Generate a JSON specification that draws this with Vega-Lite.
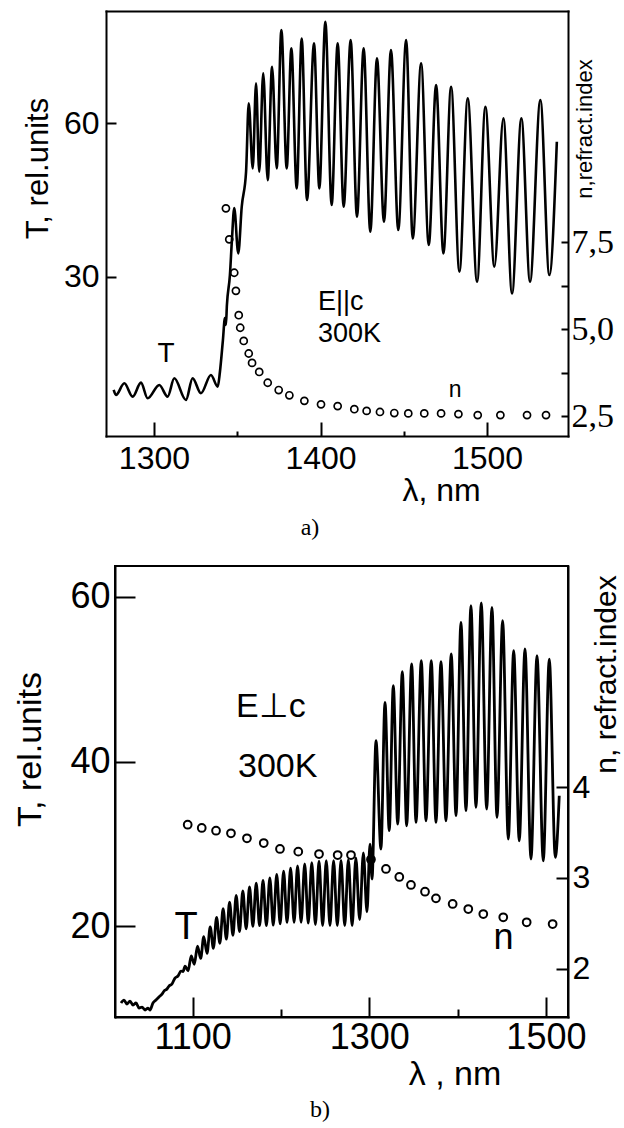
{
  "$schema": "https://vega.github.io/schema/vega-lite/v6.json",
  "background": "white",
  "padding": {"left": 12, "top": 11, "right": 0, "bottom": 0},
  "config": {
    "view": {"stroke": "black", "strokeWidth": 2},
    "axis": {"grid": false, "domainColor": "black", "domainWidth": 2, "domainCap": "square", "tickColor": "black", "tickWidth": 2, "labelColor": "black", "titleColor": "black", "labelFont": "Liberation Sans", "titleFont": "Liberation Sans", "titleFontWeight": "normal", "labelFlush": false, "labelOverlap": false},
    "text": {"font": "Liberation Sans", "color": "black"}
  },
  "datasets": {
    "lineA": [
      {"lambda":1275.8,"T":7.81},{"lambda":1277.2,"T":6.83},{"lambda":1282.2,"T":9.12},{"lambda":1287.2,"T":6.50},{"lambda":1292.2,"T":9.24},{"lambda":1296.2,"T":6.18},{"lambda":1303.2,"T":8.79},{"lambda":1308.2,"T":6.50},{"lambda":1312.2,"T":10.10},{"lambda":1319.2,"T":5.85},{"lambda":1323.2,"T":10.10},{"lambda":1328.2,"T":7.16},{"lambda":1334.2,"T":10.74},{"lambda":1338.3,"T":8.45},{"lambda":1339.6,"T":11.33},{"lambda":1341.4,"T":17.59},{"lambda":1342.6,"T":21.9},{"lambda":1343.2,"T":20.53},{"lambda":1343.8,"T":24.44},{"lambda":1345.6,"T":30.31},{"lambda":1346.8,"T":37.16},{"lambda":1348.2,"T":43.42},{"lambda":1350.6,"T":34.56},{"lambda":1352.7,"T":43.68},{"lambda":1355.3,"T":50.53},{"lambda":1356.9,"T":63.91},{"lambda":1359.3,"T":51.19},{"lambda":1361.3,"T":67.83},{"lambda":1363.2,"T":50.53},{"lambda":1365.6,"T":69.79},{"lambda":1368.3,"T":48.90},{"lambda":1370.9,"T":71.08},{"lambda":1373.7,"T":51.19},{"lambda":1376.5,"T":78.26},{"lambda":1379.7,"T":51.19},{"lambda":1382.5,"T":74.68},{"lambda":1385.7,"T":47.28},{"lambda":1388.7,"T":76.63},{"lambda":1391.9,"T":44.99},{"lambda":1396.1,"T":75.66},{"lambda":1399.3,"T":47.28},{"lambda":1402.9,"T":79.88},{"lambda":1406.7,"T":44.01},{"lambda":1410.3,"T":75.66},{"lambda":1413.9,"T":43.68},{"lambda":1418.1,"T":76.30},{"lambda":1421.9,"T":41.72},{"lambda":1425.9,"T":74.68},{"lambda":1429.9,"T":38.79},{"lambda":1433.9,"T":72.72},{"lambda":1438.1,"T":40.74},{"lambda":1442.3,"T":74.34},{"lambda":1446.7,"T":39.12},{"lambda":1451.4,"T":76.30},{"lambda":1455.4,"T":37.49},{"lambda":1460.4,"T":71.74},{"lambda":1465.0,"T":36.18},{"lambda":1469.4,"T":67.50},{"lambda":1473.8,"T":34.56},{"lambda":1478.4,"T":67.16},{"lambda":1483.4,"T":30.96},{"lambda":1488.4,"T":64.89},{"lambda":1494.0,"T":29.00},{"lambda":1499.0,"T":63.25},{"lambda":1504.4,"T":31.94},{"lambda":1509.8,"T":60.98},{"lambda":1515.0,"T":26.73},{"lambda":1520.6,"T":60.98},{"lambda":1525.8,"T":29.00},{"lambda":1532.0,"T":64.56},{"lambda":1537.4,"T":30.31},{"lambda":1541.9,"T":56.40}
    ],
    "nA": [
      {"lambda":1343.2,"n":8.47},{"lambda":1345.2,"n":7.58},{"lambda":1348.2,"n":6.62},{"lambda":1349.2,"n":6.10},{"lambda":1350.9,"n":5.40},{"lambda":1351.8,"n":5.04},{"lambda":1353.9,"n":4.66},{"lambda":1356.9,"n":4.30},{"lambda":1358.9,"n":4.03},{"lambda":1363.2,"n":3.77},{"lambda":1368.3,"n":3.46},{"lambda":1374.9,"n":3.25},{"lambda":1381.3,"n":3.10},{"lambda":1390.3,"n":2.94},{"lambda":1400.3,"n":2.84},{"lambda":1410.3,"n":2.79},{"lambda":1420.3,"n":2.70},{"lambda":1427.7,"n":2.65},{"lambda":1435.7,"n":2.62},{"lambda":1444.3,"n":2.59},{"lambda":1452.7,"n":2.58},{"lambda":1462.3,"n":2.58},{"lambda":1472.4,"n":2.58},{"lambda":1482.8,"n":2.56},{"lambda":1494.4,"n":2.53},{"lambda":1508.0,"n":2.53},{"lambda":1524.0,"n":2.53},{"lambda":1535.4,"n":2.53}
    ],
    "lineB": [
      {"lambda":1018.9,"T":10.68},{"lambda":1022.3,"T":11.04},{"lambda":1025.7,"T":10.56},{"lambda":1029.1,"T":10.92},{"lambda":1032.5,"T":10.43},{"lambda":1035.9,"T":10.68},{"lambda":1039.3,"T":10.07},{"lambda":1042.7,"T":10.19},{"lambda":1046.1,"T":9.83},{"lambda":1049.5,"T":10.07},{"lambda":1051.7,"T":9.83},{"lambda":1055.1,"T":10.68},{"lambda":1058.5,"T":11.04},{"lambda":1061.9,"T":11.41},{"lambda":1065.3,"T":11.77},{"lambda":1067.6,"T":12.13},{"lambda":1071.0,"T":12.38},{"lambda":1073.2,"T":12.74},{"lambda":1076.6,"T":12.99},{"lambda":1080.0,"T":13.71},{"lambda":1083.4,"T":13.96},{"lambda":1086.8,"T":14.56},{"lambda":1089.1,"T":14.50},
      {"lambda":1091.4,"T":15.17},{"lambda":1094.9,"T":14.60},{"lambda":1098.4,"T":16.41},{"lambda":1101.9,"T":15.39},{"lambda":1105.5,"T":17.60},{"lambda":1109.1,"T":16.09},{"lambda":1112.6,"T":18.75},{"lambda":1116.3,"T":16.70},{"lambda":1119.9,"T":19.92},{"lambda":1123.5,"T":17.32},{"lambda":1127.1,"T":21.09},{"lambda":1130.8,"T":17.94},{"lambda":1134.5,"T":22.14},{"lambda":1138.2,"T":18.44},{"lambda":1141.8,"T":22.93},{"lambda":1145.6,"T":18.91},{"lambda":1149.3,"T":23.74},{"lambda":1153.1,"T":19.35},{"lambda":1156.8,"T":24.29},{"lambda":1160.6,"T":19.68},{"lambda":1164.4,"T":24.78},{"lambda":1168.2,"T":19.99},{"lambda":1172.0,"T":25.23},{"lambda":1175.8,"T":20.07},{"lambda":1179.7,"T":25.56},{"lambda":1183.5,"T":20.07},{"lambda":1187.4,"T":25.89},{"lambda":1191.3,"T":20.13},{"lambda":1195.2,"T":26.29},{"lambda":1199.1,"T":20.30},{"lambda":1203.0,"T":26.71},{"lambda":1206.9,"T":20.47},{"lambda":1210.9,"T":27.06},{"lambda":1214.9,"T":20.48},{"lambda":1218.8,"T":27.32},{"lambda":1222.8,"T":20.48},{"lambda":1226.9,"T":27.57},{"lambda":1230.9,"T":20.38},{"lambda":1234.9,"T":27.74},{"lambda":1239.0,"T":20.20},{"lambda":1243.1,"T":27.91},{"lambda":1247.2,"T":20.07},{"lambda":1251.3,"T":27.96},{"lambda":1255.5,"T":20.07},{"lambda":1259.6,"T":27.96},{"lambda":1263.8,"T":20.07},{"lambda":1268.0,"T":28.00},{"lambda":1272.2,"T":20.07},{"lambda":1276.3,"T":28.10},{"lambda":1280.6,"T":20.07},{"lambda":1284.8,"T":28.30},{"lambda":1289.1,"T":20.81},{"lambda":1293.3,"T":28.91},{"lambda":1297.4,"T":21.76},{"lambda":1300.8,"T":29.99},{"lambda":1303.1,"T":25.74},
      {"lambda":1307.6,"T":42.54},{"lambda":1313.2,"T":29.38},{"lambda":1317.8,"T":47.20},{"lambda":1322.6,"T":31.61},{"lambda":1327.2,"T":49.22},{"lambda":1332.2,"T":32.42},{"lambda":1337.4,"T":50.92},{"lambda":1342.3,"T":32.21},{"lambda":1348.0,"T":51.86},{"lambda":1352.9,"T":32.63},{"lambda":1358.9,"T":52.26},{"lambda":1364.2,"T":32.82},{"lambda":1370.2,"T":52.26},{"lambda":1375.5,"T":32.63},{"lambda":1381.2,"T":52.13},{"lambda":1386.8,"T":32.82},{"lambda":1392.8,"T":53.07},{"lambda":1398.2,"T":33.43},{"lambda":1403.8,"T":56.92},{"lambda":1409.5,"T":34.04},{"lambda":1415.1,"T":58.94},{"lambda":1420.8,"T":34.45},{"lambda":1426.8,"T":59.27},{"lambda":1432.9,"T":34.24},{"lambda":1438.9,"T":58.74},{"lambda":1444.6,"T":33.23},{"lambda":1451.0,"T":57.12},{"lambda":1457.4,"T":30.60},{"lambda":1463.5,"T":53.47},{"lambda":1469.8,"T":30.39},{"lambda":1476.3,"T":53.68},{"lambda":1483.1,"T":28.17},{"lambda":1489.9,"T":52.86},{"lambda":1497.0,"T":27.96},{"lambda":1503.8,"T":52.46},{"lambda":1510.6,"T":28.38},{"lambda":1515.1,"T":35.86}
    ],
    "nB": [
      {"lambda":1094.4,"n":3.586},{"lambda":1110.3,"n":3.550},{"lambda":1126.5,"n":3.520},{"lambda":1143.4,"n":3.491},{"lambda":1161.5,"n":3.436},{"lambda":1180.5,"n":3.384},{"lambda":1198.9,"n":3.319},{"lambda":1219.6,"n":3.289},{"lambda":1243.1,"n":3.263},{"lambda":1264.2,"n":3.252},{"lambda":1279.3,"n":3.252},{"lambda":1301.9,"n":3.203},{"lambda":1318.9,"n":3.098},{"lambda":1334.0,"n":3.010},{"lambda":1347.2,"n":2.922},{"lambda":1363.1,"n":2.848},{"lambda":1375.5,"n":2.775},{"lambda":1394.4,"n":2.713},{"lambda":1412.1,"n":2.657},{"lambda":1429.1,"n":2.602},{"lambda":1451.7,"n":2.566},{"lambda":1478.2,"n":2.511},{"lambda":1507.6,"n":2.492}
    ]
  },
  "vconcat": [
    {
      "width": 453,
      "height": 425,
      "view": {"stroke": null},
      "title": {"text": "a)", "orient": "bottom", "anchor": "middle", "font": "Liberation Serif", "fontSize": 24, "fontWeight": "normal", "color": "black", "dx": -31.5, "offset": 29, "baseline": "alphabetic"},
      "layer": [
        {"data": {"name": "lineA"}, "mark": {"type": "line", "color": "black", "strokeWidth": 2.6, "interpolate": "monotone"},
          "encoding": {
            "x": {"field": "lambda", "type": "quantitative", "scale": {"domain": [1271.2, 1548.6], "range": [-9, 453], "nice": false, "zero": false},
              "axis": {"orient": "bottom", "title": "λ, nm", "titleFontSize": 32, "titleX": 326, "titleY": 64, "titleAlign": "center", "titleBaseline": "alphabetic", "titleAnchor": null,
                "values": [1300, 1350, 1400, 1450, 1500], "labelExpr": "datum.value % 100 === 0 ? format(datum.value, 'd') : ''",
                "tickSize": {"condition": {"test": "datum.value % 100 === 0", "value": -14}, "value": -5},
                "labelPadding": 21, "labelFontSize": 32}},
            "y": {"field": "T", "type": "quantitative", "scale": {"domain": [-1.2, 82], "nice": false, "zero": false},
              "axis": {"orient": "left", "offset": 9, "title": "T, rel.units", "titleFontSize": 31, "titleAngle": 270, "titleX": -68, "titleY": 157, "titleAlign": "center", "titleBaseline": "middle", "titleAnchor": null,
                "values": [30, 60], "format": "d", "tickSize": -10, "labelPadding": 17, "labelFontSize": 32, "labelBaseline": "middle"}}}},
        {"data": {"values": [{"lambda": 1398.5, "T": 23.46, "label": "E||c"}, {"lambda": 1398.5, "T": 17.26, "label": "300K"}]},
          "mark": {"type": "text", "align": "left", "baseline": "alphabetic", "fontSize": 27},
          "encoding": {
            "x": {"field": "lambda", "type": "quantitative", "scale": {"domain": [1271.2, 1548.6], "range": [-9, 453], "nice": false, "zero": false}, "axis": null},
            "y": {"field": "T", "type": "quantitative", "scale": {"domain": [-1.2, 82], "nice": false, "zero": false}, "axis": null}, "text": {"field": "label"}}},
        {"data": {"values": [{"lambda": 1307.2, "T": 13.35, "label": "T"}]},
          "mark": {"type": "text", "align": "center", "baseline": "alphabetic", "fontSize": 28},
          "encoding": {
            "x": {"field": "lambda", "type": "quantitative", "scale": {"domain": [1271.2, 1548.6], "range": [-9, 453], "nice": false, "zero": false}, "axis": null},
            "y": {"field": "T", "type": "quantitative", "scale": {"domain": [-1.2, 82], "nice": false, "zero": false}, "axis": null}, "text": {"field": "label"}}},
        {"data": {"values": [{"lambda": 1480.9, "T": 6.5, "label": "n"}]},
          "mark": {"type": "text", "align": "center", "baseline": "alphabetic", "fontSize": 23},
          "encoding": {
            "x": {"field": "lambda", "type": "quantitative", "scale": {"domain": [1271.2, 1548.6], "range": [-9, 453], "nice": false, "zero": false}, "axis": null},
            "y": {"field": "T", "type": "quantitative", "scale": {"domain": [-1.2, 82], "nice": false, "zero": false}, "axis": null}, "text": {"field": "label"}}},
        {"data": {"name": "nA"}, "mark": {"type": "point", "shape": "circle", "filled": false, "color": "black", "size": 50, "strokeWidth": 1.7, "opacity": 1},
          "encoding": {
            "x": {"field": "lambda", "type": "quantitative", "scale": {"domain": [1271.2, 1548.6], "range": [-9, 453], "nice": false, "zero": false},
              "axis": {"orient": "top", "domain": true, "ticks": false, "labels": false, "title": null}},
            "y": {"field": "n", "type": "quantitative", "scale": {"domain": [1.93, 14.14], "nice": false, "zero": false},
              "axis": {"orient": "right", "title": "n,refract.index", "titleFontSize": 22, "titleAngle": 270, "titleX": 16, "titleY": 117.5, "titleAlign": "center", "titleBaseline": "middle", "titleAnchor": null,
                "values": [2.5, 3.75, 5, 6.25, 7.5], "labelExpr": "datum.value === 2.5 ? '2,5' : datum.value === 5 ? '5,0' : datum.value === 7.5 ? '7,5' : ''",
                "tickSize": -7, "labelPadding": 10, "labelFont": "Liberation Serif", "labelFontSize": 34, "labelBaseline": "middle"}}}}
      ],
      "resolve": {"scale": {"y": "independent"}, "axis": {"x": "independent"}}
    },
    {
      "width": 453,
      "height": 451,
      "title": {"text": "b)", "orient": "bottom", "anchor": "middle", "font": "Liberation Serif", "fontSize": 24, "fontWeight": "normal", "color": "black", "dx": -21.5, "offset": 26, "baseline": "alphabetic"},
      "encoding": {
        "x": {"field": "lambda", "type": "quantitative", "scale": {"domain": [1012.1, 1525], "nice": false, "zero": false},
          "axis": {"title": "λ , nm", "titleFontSize": 34, "titleX": 339.5, "titleY": 67, "titleAlign": "center", "titleBaseline": "alphabetic", "titleAnchor": null,
            "values": [1100, 1200, 1300, 1400, 1500], "labelExpr": "datum.value % 200 === 100 ? format(datum.value, 'd') : ''",
            "tickSize": {"condition": {"test": "datum.value % 200 === 100", "value": -20}, "value": -8},
            "labelPadding": 23, "labelFontSize": 36}}
      },
      "layer": [
        {"data": {"name": "lineB"}, "mark": {"type": "line", "color": "black", "strokeWidth": 2.8, "interpolate": "monotone"},
          "encoding": {"y": {"field": "T", "type": "quantitative", "scale": {"domain": [8.98, 63.76], "nice": false, "zero": false},
            "axis": {"orient": "left", "title": "T, rel.units", "titleFontSize": 34, "titleAngle": 270, "titleX": -84.5, "titleY": 183, "titleAlign": "center", "titleBaseline": "middle", "titleAnchor": null,
              "values": [20, 40, 60], "tickSize": -20, "labelPadding": 25, "labelFontSize": 36, "labelBaseline": "middle"}}}},
        {"data": {"values": [{"lambda": 1149.1, "T": 45.42, "label": "E⊥c"}, {"lambda": 1151.4, "T": 38.13, "label": "300K"}]},
          "mark": {"type": "text", "align": "left", "baseline": "alphabetic", "fontSize": 34},
          "encoding": {"y": {"field": "T", "type": "quantitative", "scale": {"domain": [8.98, 63.76], "nice": false, "zero": false}, "axis": null}, "text": {"field": "label"}}},
        {"data": {"values": [{"lambda": 1092.5, "T": 18.45, "label": "T"}]},
          "mark": {"type": "text", "align": "center", "baseline": "alphabetic", "fontSize": 38},
          "encoding": {"y": {"field": "T", "type": "quantitative", "scale": {"domain": [8.98, 63.76], "nice": false, "zero": false}, "axis": null}, "text": {"field": "label"}}},
        {"data": {"values": [{"lambda": 1451.9, "T": 17.24, "label": "n"}]},
          "mark": {"type": "text", "align": "center", "baseline": "alphabetic", "fontSize": 36},
          "encoding": {"y": {"field": "T", "type": "quantitative", "scale": {"domain": [8.98, 63.76], "nice": false, "zero": false}, "axis": null}, "text": {"field": "label"}}},
        {"data": {"name": "nB"}, "mark": {"type": "point", "shape": "circle", "filled": false, "color": "black", "size": 60, "strokeWidth": 2, "opacity": 1},
          "encoding": {"y": {"field": "n", "type": "quantitative", "scale": {"domain": [1.468, 6.435], "nice": false, "zero": false},
            "axis": {"orient": "right", "title": "n, refract.index", "titleFontSize": 30, "titleAngle": 270, "titleX": 38, "titleY": 108, "titleAlign": "center", "titleBaseline": "middle", "titleAnchor": null,
              "values": [2, 3, 4], "tickSize": -12, "labelPadding": 16, "labelFontSize": 32, "labelBaseline": "middle"}}}}
      ],
      "resolve": {"scale": {"y": "independent"}}
    }
  ],
  "spacing": 25
}
